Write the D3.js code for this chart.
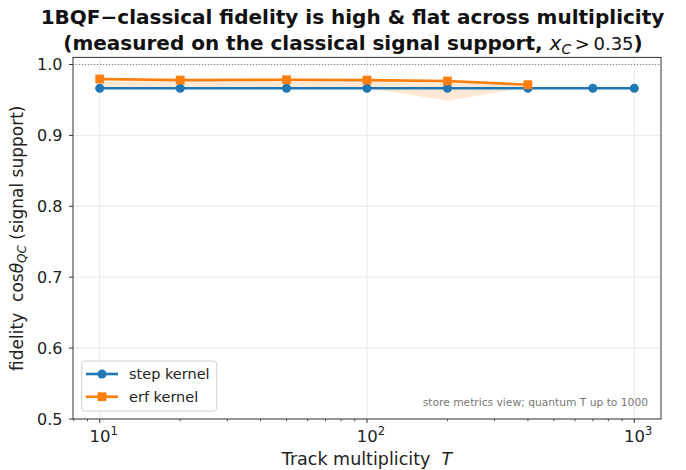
<!DOCTYPE html>
<html><head><meta charset="utf-8">
<script src="https://cdn.jsdelivr.net/npm/d3@7"></script>
<style>body{margin:0;background:#fff} text{font-family:"DejaVu Sans",sans-serif; white-space:pre}</style>
</head><body><svg id="c" width="686" height="470"></svg>
<script>
// ---- data ----
const stepT = [10, 20, 50, 100, 200, 400, 700, 1000];
const stepFid = [0.9665, 0.9665, 0.9665, 0.9665, 0.9665, 0.9665, 0.9665, 0.9665];
const erfT = [10, 20, 50, 100, 200, 400];
const erfFid = [0.9795, 0.978, 0.9785, 0.978, 0.9767, 0.9715];
const erfLow = [0.968, 0.968, 0.968, 0.967, 0.949, 0.968];
const erfHigh = [0.980, 0.979, 0.980, 0.979, 0.978, 0.973];
const yTicks = [0.5, 0.6, 0.7, 0.8, 0.9, 1.0];
const xTicks = [10, 100, 1000];
const xTickExp = ["1", "2", "3"];
const xMinor = [8, 9, 20, 30, 40, 50, 60, 70, 80, 90, 200, 300, 400, 500, 600, 700, 800, 900];
const seriesNames = ["step kernel", "erf kernel"];

const blue = "#1f77b4", orange = "#ff7f0e";
const svg = d3.select("#c");
const L = 73, R = 661, T = 57.4, B = 419;
const x = d3.scaleLog().domain([7.943, 1258.9]).range([L, R]);
const y = d3.scaleLinear().domain([0.5, 1.01]).range([B, T]);

// grid
const g = svg.append("g");
g.selectAll(".gx").data(xTicks).enter().append("line")
  .attr("x1", d => x(d)).attr("x2", d => x(d)).attr("y1", T).attr("y2", B)
  .attr("stroke", "#e6e6e6").attr("stroke-width", 0.9);
g.selectAll(".gy").data(yTicks).enter().append("line")
  .attr("x1", L).attr("x2", R).attr("y1", d => y(d)).attr("y2", d => y(d))
  .attr("stroke", "#e6e6e6").attr("stroke-width", 0.9);

// reference dotted line at 1.0
svg.append("line").attr("x1", L).attr("x2", R).attr("y1", y(1)).attr("y2", y(1))
  .attr("stroke", "#888").attr("stroke-width", 1).attr("stroke-dasharray", "1,2");

// band
const band = erfT.map((t, i) => ({t, lo: erfLow[i], hi: erfHigh[i]}));
svg.append("path").datum(band)
  .attr("d", d3.area().x(d => x(d.t)).y0(d => y(d.lo)).y1(d => y(d.hi)))
  .attr("fill", orange).attr("fill-opacity", 0.18);

// lines + markers
const stepData = stepT.map((t, i) => ({t, v: stepFid[i]}));
const erfData = erfT.map((t, i) => ({t, v: erfFid[i]}));
const line = d3.line().x(d => x(d.t)).y(d => y(d.v));
svg.append("path").datum(stepData).attr("d", line).attr("fill", "none")
  .attr("stroke", blue).attr("stroke-width", 2.6);
svg.selectAll(".sm").data(stepData).enter().append("circle")
  .attr("cx", d => x(d.t)).attr("cy", d => y(d.v)).attr("r", 4.5).attr("fill", blue);
svg.append("path").datum(erfData).attr("d", line).attr("fill", "none")
  .attr("stroke", orange).attr("stroke-width", 2.6);
svg.selectAll(".em").data(erfData).enter().append("rect")
  .attr("x", d => x(d.t) - 4.4).attr("y", d => y(d.v) - 4.4).attr("width", 8.8).attr("height", 8.8)
  .attr("fill", orange);

// spines
svg.append("rect").attr("x", L).attr("y", T).attr("width", R - L).attr("height", B - T)
  .attr("fill", "none").attr("stroke", "#333").attr("stroke-width", 1);

// y ticks
svg.selectAll(".yt").data(yTicks).enter().append("line")
  .attr("x1", L - 4).attr("x2", L).attr("y1", d => y(d)).attr("y2", d => y(d))
  .attr("stroke", "#333").attr("stroke-width", 1);
svg.selectAll(".yl").data(yTicks).enter().append("text")
  .attr("x", L - 10.5).attr("y", d => y(d)).attr("dy", "0.36em")
  .attr("text-anchor", "end").attr("font-size", 16).attr("fill", "#222")
  .text(d => d.toFixed(1));

// x ticks
svg.selectAll(".xt").data(xTicks).enter().append("line")
  .attr("x1", d => x(d)).attr("x2", d => x(d)).attr("y1", B).attr("y2", B + 4)
  .attr("stroke", "#333").attr("stroke-width", 1);
svg.selectAll(".xm").data(xMinor).enter().append("line")
  .attr("x1", d => x(d)).attr("x2", d => x(d)).attr("y1", B).attr("y2", B + 2.4)
  .attr("stroke", "#333").attr("stroke-width", 0.8);
const xl = svg.selectAll(".xl").data(xTicks).enter().append("text")
  .attr("x", d => x(d) + 4).attr("y", 442).attr("text-anchor", "middle")
  .attr("font-size", 16.5).attr("fill", "#222");
xl.append("tspan").text("10");
xl.append("tspan").attr("dy", -7).attr("font-size", 11.5).text((d, i) => xTickExp[i]);

// axis labels
svg.append("text").attr("x", (L + R) / 2).attr("y", 465).attr("text-anchor", "middle")
  .attr("font-size", 17.5).attr("fill", "#222")
  .call(t => { t.append("tspan").text("Track multiplicity  ");
               t.append("tspan").attr("font-style", "italic").text("T"); });
const yl = svg.append("text").attr("transform", `translate(23,${(T + B) / 2}) rotate(-90)`)
  .attr("text-anchor", "middle").attr("font-size", 17).attr("fill", "#222");
yl.append("tspan").text("fidelity  cos");
yl.append("tspan").attr("font-style", "italic").text("θ");
yl.append("tspan").attr("font-style", "italic").attr("font-size", 12).attr("dy", 3).text("QC");
yl.append("tspan").attr("dy", -3).text(" (signal support)");

// title
svg.append("text").attr("x", 352.5).attr("y", 24).attr("text-anchor", "middle")
  .attr("font-size", 20).attr("font-weight", "bold").attr("fill", "#111")
  .text("1BQF\u2212classical fidelity is high & flat across multiplicity");
const t2 = svg.append("text").attr("x", 353).attr("y", 50).attr("text-anchor", "middle")
  .attr("font-size", 20).attr("fill", "#111");
t2.append("tspan").attr("font-weight", "bold").text("(measured on the classical signal support, ");
t2.append("tspan").attr("font-style", "italic").text("x");
t2.append("tspan").attr("font-style", "italic").attr("font-size", 14).attr("dy", 3.5).text("C");
t2.append("tspan").attr("dy", -3.5).attr("font-size", 18).text("\u2009>\u20090.35");
t2.append("tspan").attr("font-weight", "bold").text(")");

// annotation
svg.append("text").attr("x", 648).attr("y", 405.5).attr("text-anchor", "end")
  .attr("font-size", 10.7).attr("fill", "#777")
  .text("store metrics view; quantum T up to 1000");

// legend
const lg = svg.append("g");
lg.append("rect").attr("x", 81.7).attr("y", 361).attr("width", 135).attr("height", 50)
  .attr("rx", 3).attr("fill", "#fff").attr("fill-opacity", 0.8)
  .attr("stroke", "#d0d0d0").attr("stroke-width", 1);
const colors = [blue, orange];
seriesNames.forEach((name, i) => {
  const yy = 374 + i * 22.7;
  lg.append("line").attr("x1", 86).attr("x2", 118).attr("y1", yy).attr("y2", yy)
    .attr("stroke", colors[i]).attr("stroke-width", 2.6);
  if (i === 0) lg.append("circle").attr("cx", 102).attr("cy", yy).attr("r", 4.5).attr("fill", colors[i]);
  else lg.append("rect").attr("x", 102 - 4.4).attr("y", yy - 4.4).attr("width", 8.8).attr("height", 8.8).attr("fill", colors[i]);
  lg.append("text").attr("x", 129).attr("y", yy).attr("dy", "0.36em")
    .attr("font-size", 14.5).attr("fill", "#222").text(name);
});
</script></body></html>
